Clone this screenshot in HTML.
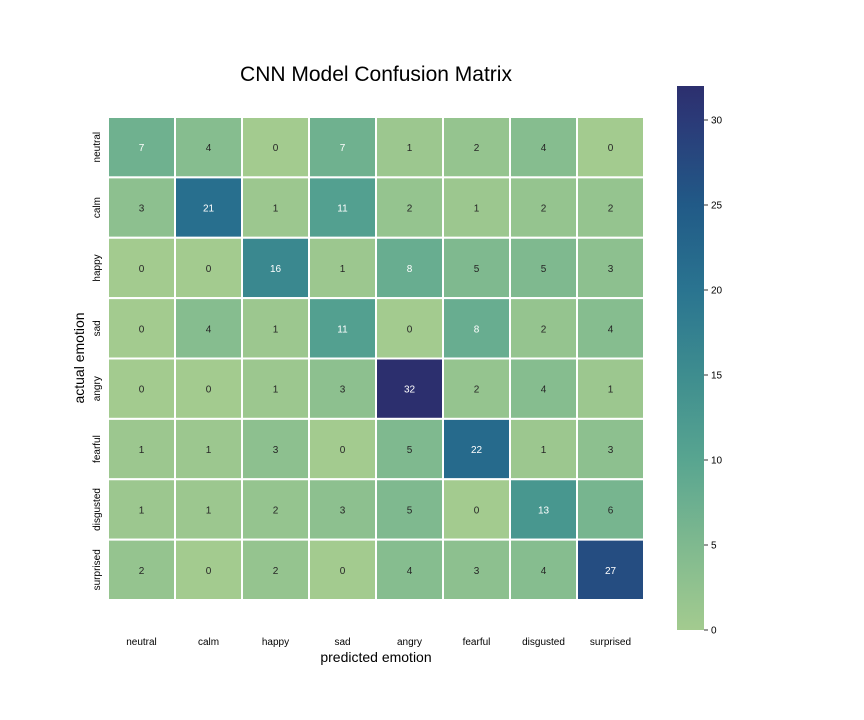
<!DOCTYPE html>
<html><head><meta charset="utf-8">
<style>
body{margin:0;background:#fff;}
svg{display:block;font-family:"Liberation Sans","DejaVu Sans",sans-serif;}
</style></head>
<body>
<svg id="chart" width="864" height="720" viewBox="0 0 864 720">
<defs>
<linearGradient id="cb" x1="0" y1="1" x2="0" y2="0">
<stop offset="0" stop-color="#a3cb8f"/>
<stop offset="0.156" stop-color="#7fb98f"/>
<stop offset="0.3125" stop-color="#58a590"/>
<stop offset="0.469" stop-color="#3e8d8f"/>
<stop offset="0.625" stop-color="#2a7490"/>
<stop offset="0.781" stop-color="#215a87"/>
<stop offset="0.9375" stop-color="#2b3a78"/>
<stop offset="1" stop-color="#2c2f6e"/>
</linearGradient>
</defs>
<text x="376" y="81" font-size="21" text-anchor="middle" fill="#000">CNN Model Confusion Matrix</text>
<g id="cells"></g>
<g id="xt"></g><g id="yt"></g>
<text x="376" y="662" font-size="14" text-anchor="middle">predicted emotion</text>
<text transform="translate(84,358) rotate(-90)" font-size="14" text-anchor="middle">actual emotion</text>
<rect x="677" y="86" width="27" height="544" fill="url(#cb)"/>
<g id="cbt"></g>
</svg>
<script>
const labels=["neutral","calm","happy","sad","angry","fearful","disgusted","surprised"];
const matrix=[
[7,4,0,7,1,2,4,0],
[3,21,1,11,2,1,2,2],
[0,0,16,1,8,5,5,3],
[0,4,1,11,0,8,2,4],
[0,0,1,3,32,2,4,1],
[1,1,3,0,5,22,1,3],
[1,1,2,3,5,0,13,6],
[2,0,2,0,4,3,4,27]];
const cbTicks=[0,5,10,15,20,25,30];
const vmax=32;
const stops=[[0,[163,203,143]],[5,[127,185,143]],[10,[88,165,144]],[15,[62,141,143]],[20,[42,116,144]],[25,[33,90,135]],[30,[43,58,120]],[32,[44,47,110]]];
function col(v){for(let i=1;i<stops.length;i++){if(v<=stops[i][0]){const a=stops[i-1],b=stops[i],t=(v-a[0])/(b[0]-a[0]);return 'rgb('+a[1].map((c,k)=>Math.round(c+(b[1][k]-c)*t)).join(',')+')';}}return 'rgb(44,47,110)';}
const X0=108,X1=644,Y0=117,Y1=600;
const cw=(X1-X0)/labels.length,ch=(Y1-Y0)/labels.length;
const xs=i=>X0+i*cw, ys=i=>Y0+i*ch;
const cbY=v=>630-v*(544/vmax);
const NS="http://www.w3.org/2000/svg";
function mk(t,a,p){const e=document.createElementNS(NS,t);for(const k in a)e.setAttribute(k,a[k]);p.appendChild(e);return e;}
const g=document.getElementById('cells');
matrix.forEach((row,r)=>row.forEach((v,c)=>{
 const rect=mk('rect',{x:xs(c),y:ys(r),width:cw,height:ch,fill:col(v),stroke:'#fff','stroke-width':2},g);
 
 
 const t=mk('text',{x:xs(c)+cw/2,y:ys(r)+ch/2+4,'font-size':10,'text-anchor':'middle',fill:v>=7?'#fff':'#262626'},g);
 t.textContent=v;
 
 
}));
const xt=document.getElementById('xt'),yt=document.getElementById('yt');
labels.forEach((l,i)=>{
 const t=mk('text',{x:xs(i)+cw/2,y:645,'font-size':10,'text-anchor':'middle'},xt);t.textContent=l;
 
 
 const cy=ys(i)+ch/2;
 const u=mk('text',{transform:'translate(100,'+cy+') rotate(-90)','font-size':10,'text-anchor':'middle'},yt);u.textContent=l;
 
 
});
const cbt=document.getElementById('cbt');
cbTicks.forEach(v=>{
 const y=cbY(v);
 const ln=mk('line',{x1:704,x2:708,y1:y,y2:y,stroke:'#333','stroke-width':1},cbt);
 
 
 const t=mk('text',{x:711,y:y+3.5,'font-size':10},cbt);t.textContent=v;
 
 
});
</script>
</body></html>
